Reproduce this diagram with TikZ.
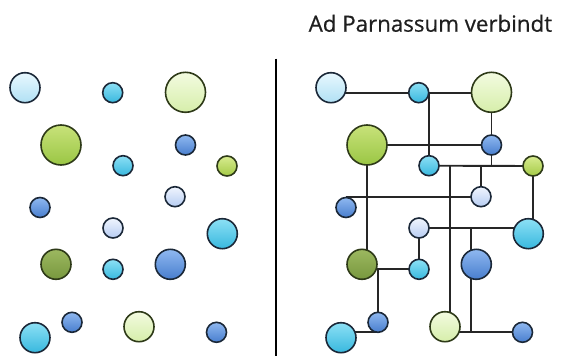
\documentclass[tikz,border=0pt]{standalone}
\usepackage{fontspec}
\setmainfont{Open Sans}
\newfontfamily\titlefont[FakeBold=0.6]{Open Sans}
\pgfdeclarelayer{bg}
\pgfsetlayers{bg,main}
\definecolor{edgeblue}{HTML}{1B2838}
\definecolor{edgegreen}{HTML}{2E3A18}
\definecolor{linkc}{HTML}{262626}
\tikzset{
  ball/.style={circle, inner sep=0pt, line width=1.6pt, draw=edgeblue},
  bigball/.style={ball, minimum size=40pt},
  midball/.style={ball, minimum size=30pt},
  smlball/.style={ball, minimum size=20pt},
  lcyan/.style={top color={rgb,255:red,232;green,248;blue,254}, bottom color={rgb,255:red,176;green,224;blue,244}},
  cyanb/.style={top color={rgb,255:red,140;green,224;blue,245}, bottom color={rgb,255:red,56;green,184;blue,222}},
  lgreen/.style={draw=edgegreen, top color={rgb,255:red,243;green,251;blue,224}, bottom color={rgb,255:red,214;green,238;blue,170}},
  greenb/.style={draw=edgegreen, top color={rgb,255:red,200;green,226;blue,122}, bottom color={rgb,255:red,154;green,198;blue,68}},
  blueb/.style={top color={rgb,255:red,143;green,184;blue,240}, bottom color={rgb,255:red,72;green,126;blue,206}},
  limeb/.style={draw=edgegreen, top color={rgb,255:red,216;green,236;blue,144}, bottom color={rgb,255:red,164;green,202;blue,70}},
  lblue/.style={top color={rgb,255:red,240;green,245;blue,254}, bottom color={rgb,255:red,182;green,204;blue,242}},
  oliveb/.style={draw=edgegreen, top color={rgb,255:red,156;green,184;blue,96}, bottom color={rgb,255:red,120;green,152;blue,62}},
  link/.style={line width=1.9pt, draw=linkc},
  divider/.style={line width=1.8pt, draw=black},
  title/.style={font=\titlefont\fontsize{22.3}{26}\selectfont, text=black!88, inner sep=0pt, anchor=base west}
}
\newcommand\ballset[2]{%
  \begin{scope}[xshift=#2]
    \node[midball,lcyan]  (#11)  at (25,-87.7) {};
    \node[smlball,cyanb]  (#12)  at (112.7,-92.7) {};
    \node[bigball,lgreen] (#13)  at (185.5,-92.3) {};
    \node[bigball,greenb] (#14)  at (61,-145) {};
    \node[smlball,blueb]  (#15)  at (185.5,-145) {};
    \node[smlball,cyanb]  (#16)  at (123,-165.7) {};
    \node[smlball,limeb]  (#17)  at (227,-166) {};
    \node[smlball,blueb]  (#18)  at (40,-207.5) {};
    \node[smlball,lblue]  (#19)  at (175,-196.7) {};
    \node[smlball,lblue]  (#110) at (113,-228) {};
    \node[midball,cyanb]  (#111) at (222.3,-233.7) {};
    \node[midball,oliveb] (#112) at (56,-264.3) {};
    \node[smlball,cyanb]  (#113) at (113,-269.3) {};
    \node[midball,blueb]  (#114) at (170.3,-264.3) {};
    \node[smlball,blueb]  (#115) at (72,-322.3) {};
    \node[midball,cyanb]  (#116) at (35,-337.7) {};
    \node[midball,lgreen] (#117) at (139,-326.7) {};
    \node[smlball,blueb]  (#118) at (216.5,-332.3) {};
  \end{scope}}
\begin{document}
\begin{tikzpicture}[x=1pt,y=1pt]
  \useasboundingbox (0,0) rectangle (562,-356);
  \node[title] (T) at (308.5,-31.7) {Ad Parnassum verbindt};
  \coordinate (dtop) at (276,-58.5);
  \coordinate (dbot) at (276,-356);
  \draw[divider] (dtop) -- (dbot);
  \ballset{L}{0pt}
  \ballset{R}{306pt}
  \coordinate (j1) at (450,-166);
  \coordinate (j2) at (471,-228);
  \coordinate (j3) at (378,-332.3);
  \begin{pgfonlayer}{bg}
    \draw[link] (R1.center |- R2.center) -- (R3.center |- R2.center);
    \draw[link] (R6.center |- R2.center) -- (R6.center);
    \draw[link] (R3.center) -- (R5.center);
    \draw[link] (R4.center) -- (R5.center);
    \draw[link] (R5.center) -- (R5.center |- R6.center);
    \draw[link] (R6.center) -- (R7.center);
    \draw[link] (R9.center |- R6.center) -- (R9.center);
    \draw[link] (j1) -- (j1 |- R17.center);
    \draw[link] (R7.center) -- (R7.center |- R11.center);
    \draw[link] (R4.center) -- (R4.center |- R12.center);
    \draw[link] (R8.center |- R9.center) -- (R9.center);
    \draw[link] (R10.center) -- (R10.center -| R11.center);
    \draw[link] (j2) -- (j2 |- R18.center);
    \draw[link] (R10.center) -- (R13.center);
    \draw[link] (R12.center |- R13.center) -- (R13.center);
    \draw[link] (R15.center |- R13.center) -- (R15.center);
    \draw[link] (j3) -- (j3 -| R16.center);
    \draw[link] (R17.center |- R18.center) -- (R18.center);
  \end{pgfonlayer}
\end{tikzpicture}
\end{document}
